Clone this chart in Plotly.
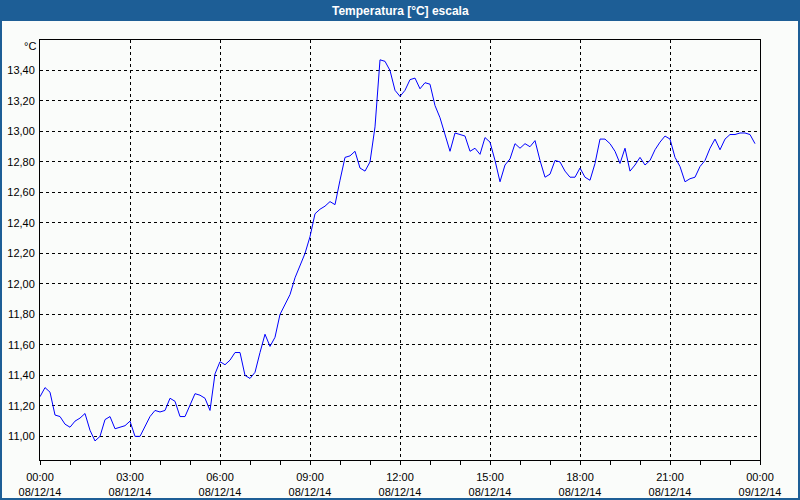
import plotly.graph_objects as go
import pandas as pd

# ---- data ----
start_time = "2014-12-08 00:00"
step_minutes = 10
temperatures = [
    11.26, 11.32, 11.29, 11.14, 11.13, 11.08, 11.06, 11.10, 11.12, 11.15,
    11.04, 10.97, 11.00, 11.11, 11.13, 11.05, 11.06, 11.07, 11.10, 11.00,
    11.00, 11.06, 11.13, 11.17, 11.16, 11.17, 11.25, 11.23, 11.13, 11.13,
    11.21, 11.28, 11.27, 11.25, 11.17, 11.41, 11.49, 11.47, 11.50, 11.55,
    11.55, 11.40, 11.38, 11.42, 11.55, 11.67, 11.59, 11.65, 11.80, 11.86,
    11.93, 12.04, 12.12, 12.20, 12.31, 12.46, 12.49, 12.51, 12.54, 12.52,
    12.68, 12.83, 12.84, 12.87, 12.76, 12.74, 12.80, 13.03, 13.47, 13.46,
    13.40, 13.27, 13.23, 13.27, 13.34, 13.35, 13.28, 13.32, 13.31, 13.17,
    13.09, 12.98, 12.87, 12.99, 12.98, 12.97, 12.87, 12.89, 12.85, 12.96,
    12.93, 12.81, 12.67, 12.78, 12.82, 12.92, 12.89, 12.92, 12.90, 12.94,
    12.81, 12.70, 12.72, 12.81, 12.80, 12.74, 12.70, 12.70, 12.76, 12.70,
    12.68, 12.79, 12.95, 12.95, 12.92, 12.87, 12.79, 12.89, 12.74, 12.78,
    12.83, 12.78, 12.81, 12.88, 12.93, 12.97, 12.95, 12.83, 12.77, 12.67,
    12.69, 12.70, 12.77, 12.81, 12.89, 12.95, 12.88, 12.95, 12.98, 12.98,
    12.99, 12.99, 12.98, 12.92,
]
times = pd.date_range(start_time, periods=len(temperatures), freq=f"{step_minutes}min")

x_tick_times = pd.date_range("2014-12-08 00:00", "2014-12-09 00:00", freq="3h")
x_time_labels = [t.strftime("%H:%M") for t in x_tick_times]
x_date_labels = [t.strftime("%d/%m/%y") for t in x_tick_times]
x_hour_ticks = pd.date_range("2014-12-08 00:00", "2014-12-09 00:00", freq="1h")
y_tick_values = [11.0, 11.2, 11.4, 11.6, 11.8, 12.0, 12.2, 12.4, 12.6, 12.8, 13.0, 13.2, 13.4]
y_tick_labels = [f"{v:.2f}".replace(".", ",") for v in y_tick_values]

title_text = "Temperatura [°C] escala"
unit_text = "°C"

# ---- layout helpers (pixel -> paper) ----
L, R, T, B = 40, 40, 40, 40
W, H = 800, 500
PW, PH = W - L - R, H - T - B
def px(x):
    return (x - L) / PW
def py(y):
    return (H - B - y) / PH

BLUE = "#1D5E96"
BG = "#FAFCFA"
FONT = "Liberation Sans"
xr = [x_tick_times[0], x_tick_times[-1]]

fig = go.Figure()
fig.add_trace(go.Scatter(x=times, y=temperatures, mode="lines",
                         line=dict(color="#0000FF", width=1), hoverinfo="skip"))
for ax in ("x2", "x3"):
    fig.add_trace(go.Scatter(x=xr, y=[None, None], xaxis=ax, mode="lines",
                             showlegend=False, hoverinfo="skip"))

common_overlay = dict(overlaying="x", side="bottom", anchor="y", range=xr,
                      showgrid=False, showline=False, zeroline=False,
                      fixedrange=True, automargin=False)

fig.update_layout(
    width=W, height=H,
    margin=dict(l=L, r=R, t=T, b=B, pad=0, autoexpand=False),
    paper_bgcolor=BG, plot_bgcolor=BG,
    showlegend=False,
    font=dict(family=FONT, size=11, color="#000000"),
    xaxis=dict(
        range=xr,
        tickvals=x_tick_times, ticktext=x_time_labels,
        showgrid=True, gridcolor="#000000", griddash="3px,3px", gridwidth=1,
        showline=True, linecolor="#000000", linewidth=1, mirror=True,
        ticks="outside", ticklen=7, tickcolor="rgba(0,0,0,0)", tickwidth=1,
        zeroline=False, fixedrange=True, automargin=False,
    ),
    xaxis2=dict(
        tickvals=x_tick_times, ticktext=x_date_labels,
        ticks="outside", ticklen=22, tickcolor="rgba(0,0,0,0)", tickwidth=1,
        **common_overlay,
    ),
    xaxis3=dict(
        tickvals=x_hour_ticks, showticklabels=False,
        ticks="outside", ticklen=4, tickcolor="#000000", tickwidth=1,
        **common_overlay,
    ),
    yaxis=dict(
        range=[10.845, 13.6],
        tickvals=y_tick_values, ticktext=y_tick_labels,
        showgrid=True, gridcolor="#000000", griddash="3px,3px", gridwidth=1,
        showline=True, linecolor="#000000", linewidth=1, mirror=True,
        ticks="outside", ticklen=2, tickcolor="rgba(0,0,0,0)",
        zeroline=False, fixedrange=True, automargin=False,
    ),
    shapes=[
        dict(type="rect", xref="paper", yref="paper", x0=px(0), x1=px(800), y0=py(0), y1=py(21),
             fillcolor=BLUE, line=dict(width=0), layer="above"),
        dict(type="rect", xref="paper", yref="paper", x0=px(0), x1=px(2), y0=py(0), y1=py(500),
             fillcolor=BLUE, line=dict(width=0), layer="above"),
        dict(type="rect", xref="paper", yref="paper", x0=px(798), x1=px(800), y0=py(0), y1=py(500),
             fillcolor=BLUE, line=dict(width=0), layer="above"),
        dict(type="rect", xref="paper", yref="paper", x0=px(0), x1=px(800), y0=py(498), y1=py(500),
             fillcolor=BLUE, line=dict(width=0), layer="above"),
    ],
    annotations=[
        dict(text="<b>" + title_text + "</b>", xref="paper", yref="paper", x=px(400), y=py(10.5),
             xanchor="center", yanchor="middle", showarrow=False,
             font=dict(family=FONT, size=12, color="#FFFFFF")),
        dict(text=unit_text, xref="paper", yref="paper", x=px(38), y=py(46),
             xanchor="right", yanchor="middle", showarrow=False,
             font=dict(family=FONT, size=11, color="#000000")),
    ],
)

fig.write_html("out.html")
